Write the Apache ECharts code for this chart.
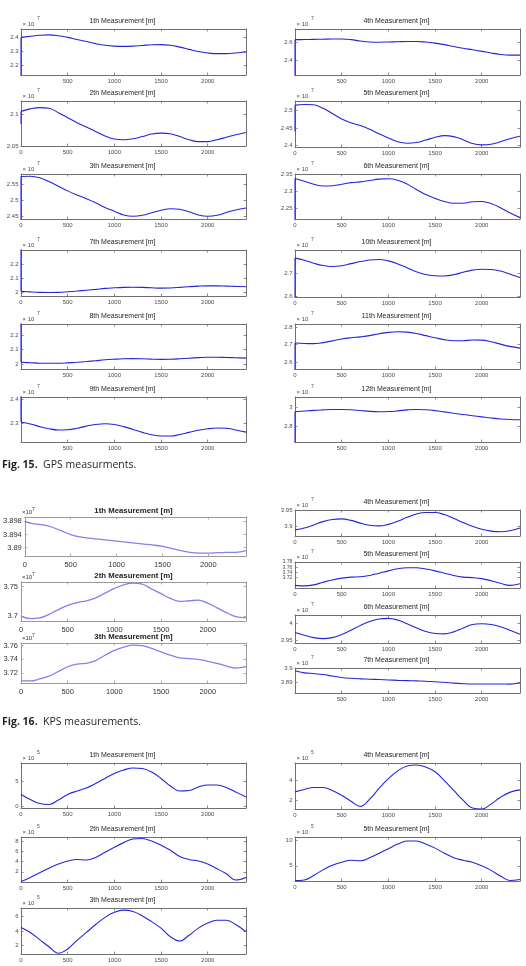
<!DOCTYPE html>
<html>
<head>
<meta charset="utf-8">
<title>GPS / KPS measurements</title>
<script src="https://cdn.jsdelivr.net/npm/echarts@6/dist/echarts.min.js"></script>
<style>
  html, body { margin: 0; padding: 0; background: #fff; }
  #chart { width: 526px; height: 966px; }
</style>
</head>
<body>
<div id="chart"></div>
<script>
// distance along the track [m], shared by every panel
var dist = [0, 100, 200, 300, 400, 500, 600, 700, 800, 900, 1000, 1100, 1200,
            1300, 1400, 1500, 1600, 1700, 1800, 1900, 2000, 2100, 2200, 2300, 2410];
var xTicks = [0, 500, 1000, 1500, 2000];

// Fig. 15 GPS (x 10^7)
var gps1 = [2.400, 2.408, 2.415, 2.418, 2.412, 2.400, 2.385, 2.370, 2.355, 2.343, 2.337, 2.335, 2.337, 2.342, 2.347, 2.348, 2.343, 2.330, 2.314, 2.298, 2.288, 2.283, 2.283, 2.288, 2.295];
var gps2 = [2.105, 2.109, 2.111, 2.110, 2.103, 2.095, 2.087, 2.080, 2.073, 2.066, 2.061, 2.060, 2.0615, 2.065, 2.069, 2.0705, 2.0695, 2.065, 2.060, 2.057, 2.057, 2.060, 2.064, 2.068, 2.0715];
var gps3 = [2.576, 2.577, 2.572, 2.560, 2.545, 2.530, 2.517, 2.505, 2.492, 2.477, 2.465, 2.453, 2.449, 2.452, 2.460, 2.468, 2.473, 2.471, 2.463, 2.453, 2.449, 2.452, 2.461, 2.469, 2.475];
var gps4 = [2.625, 2.626, 2.628, 2.630, 2.632, 2.632, 2.625, 2.610, 2.600, 2.598, 2.600, 2.603, 2.606, 2.606, 2.600, 2.588, 2.572, 2.552, 2.533, 2.517, 2.500, 2.482, 2.467, 2.460, 2.460];
var gps5 = [2.516, 2.518, 2.517, 2.507, 2.492, 2.476, 2.465, 2.457, 2.446, 2.433, 2.421, 2.410, 2.406, 2.408, 2.415, 2.423, 2.428, 2.425, 2.416, 2.405, 2.401, 2.403, 2.410, 2.419, 2.426];
var gps6 = [2.337, 2.329, 2.320, 2.315, 2.316, 2.320, 2.325, 2.327, 2.331, 2.335, 2.336, 2.332, 2.321, 2.305, 2.290, 2.279, 2.270, 2.265, 2.265, 2.269, 2.270, 2.264, 2.252, 2.237, 2.223];
var gps7 = [2.007, 2.003, 2.000, 1.999, 2.000, 2.004, 2.009, 2.015, 2.021, 2.028, 2.032, 2.035, 2.036, 2.035, 2.032, 2.030, 2.031, 2.035, 2.040, 2.044, 2.046, 2.046, 2.044, 2.042, 2.040];
var gps8 = [2.012, 2.009, 2.006, 2.005, 2.005, 2.008, 2.012, 2.017, 2.023, 2.029, 2.033, 2.036, 2.037, 2.036, 2.034, 2.032, 2.033, 2.036, 2.040, 2.044, 2.047, 2.047, 2.045, 2.043, 2.041];
var gps9 = [2.303, 2.296, 2.285, 2.276, 2.271, 2.272, 2.278, 2.287, 2.294, 2.297, 2.294, 2.285, 2.273, 2.261, 2.251, 2.246, 2.246, 2.252, 2.261, 2.270, 2.276, 2.279, 2.278, 2.271, 2.262];
var gps10 = [2.764, 2.755, 2.742, 2.732, 2.728, 2.731, 2.740, 2.749, 2.756, 2.758, 2.752, 2.739, 2.722, 2.705, 2.693, 2.688, 2.687, 2.692, 2.703, 2.712, 2.716, 2.715, 2.708, 2.695, 2.680];
var gps11 = [2.710, 2.707, 2.706, 2.712, 2.722, 2.733, 2.740, 2.745, 2.752, 2.763, 2.771, 2.774, 2.772, 2.764, 2.752, 2.740, 2.729, 2.723, 2.723, 2.727, 2.726, 2.717, 2.703, 2.690, 2.680];
var gps12 = [2.951, 2.958, 2.965, 2.970, 2.974, 2.975, 2.972, 2.964, 2.955, 2.951, 2.953, 2.960, 2.970, 2.975, 2.972, 2.963, 2.950, 2.936, 2.922, 2.910, 2.898, 2.886, 2.876, 2.870, 2.868];
// value of the first sample (drawn as the jump along the left edge)
var gpsLead = [2.0, 2.085, 2.3, 2.0, 2.44, 2.0, 2.5, 2.5, 2.6, 2.4, 2.4, 2.4];

// Fig. 16 KPS (x 10^7)
var kps1 = [3.8980, 3.8972, 3.8969, 3.8962, 3.8951, 3.8940, 3.8933, 3.8929, 3.8926, 3.8923, 3.8920, 3.8917, 3.8914, 3.8911, 3.8908, 3.8904, 3.8898, 3.8891, 3.8886, 3.8884, 3.8884, 3.8885, 3.8886, 3.8886, 3.8891];
var kps2 = [3.700, 3.6957, 3.697, 3.703, 3.711, 3.718, 3.723, 3.726, 3.731, 3.739, 3.747, 3.753, 3.756, 3.754, 3.746, 3.738, 3.730, 3.725, 3.726, 3.727, 3.722, 3.714, 3.706, 3.699, 3.697];
var kps3 = [3.708, 3.708, 3.711, 3.715, 3.722, 3.729, 3.733, 3.734, 3.738, 3.746, 3.753, 3.758, 3.761, 3.760, 3.756, 3.751, 3.746, 3.742, 3.741, 3.740, 3.737, 3.734, 3.730, 3.727, 3.729];
var kps4 = [3.887, 3.893, 3.903, 3.914, 3.921, 3.923, 3.918, 3.909, 3.902, 3.900, 3.905, 3.915, 3.928, 3.939, 3.944, 3.944, 3.937, 3.925, 3.911, 3.899, 3.889, 3.883, 3.881, 3.884, 3.893];
var kps5 = [3.690, 3.688, 3.692, 3.702, 3.711, 3.718, 3.722, 3.723, 3.728, 3.737, 3.746, 3.754, 3.758, 3.758, 3.753, 3.746, 3.737, 3.728, 3.722, 3.720, 3.716, 3.708, 3.698, 3.690, 3.696];
var kps6 = [3.973, 3.965, 3.958, 3.955, 3.958, 3.967, 3.980, 3.994, 4.006, 4.013, 4.015, 4.010, 3.999, 3.987, 3.976, 3.970, 3.969, 3.975, 3.986, 3.997, 3.999, 3.997, 3.990, 3.980, 3.968];
var kps7 = [3.8980, 3.8965, 3.8960, 3.8953, 3.8942, 3.8932, 3.8926, 3.8922, 3.8919, 3.8917, 3.8914, 3.8911, 3.8909, 3.8907, 3.8905, 3.8901, 3.8897, 3.8891, 3.8887, 3.8885, 3.8885, 3.8885, 3.8885, 3.8884, 3.8892];

// third figure (x 10^5)
var err1 = [2.3, 1.3, 0.5, 0.3, 1.2, 2.3, 3.0, 3.6, 4.5, 5.5, 6.5, 7.2, 7.6, 7.5, 6.8, 5.5, 4.0, 3.0, 3.1, 3.8, 4.2, 4.2, 3.7, 2.8, 1.8];
var err2 = [0.1, 0.9, 1.8, 2.7, 3.5, 4.1, 4.4, 4.3, 4.8, 5.8, 6.8, 7.7, 8.4, 8.5, 8.0, 7.2, 6.2, 5.0, 4.4, 4.1, 3.5, 2.6, 1.6, 0.4, 0.9];
var err3 = [4.5, 3.8, 2.8, 1.8, 0.9, 1.5, 2.7, 3.8, 4.9, 5.9, 6.6, 6.9, 6.7, 6.1, 5.3, 4.4, 3.2, 2.6, 3.4, 4.4, 5.1, 5.5, 5.5, 4.9, 3.9];
var err4 = [2.85, 3.1, 3.3, 3.3, 3.0, 2.5, 1.9, 1.35, 2.1, 3.2, 4.2, 5.0, 5.5, 5.6, 5.4, 4.9, 4.0, 3.0, 2.0, 1.2, 1.1, 1.6, 2.3, 2.8, 3.05];
var err5 = [2.1, 2.2, 3.1, 4.2, 5.1, 5.7, 6.1, 6.0, 6.6, 7.5, 8.4, 9.3, 9.9, 9.9, 9.3, 8.5, 7.5, 6.6, 6.1, 5.7, 5.0, 4.1, 3.0, 2.1, 2.3];

// y tick labels
var ticksGps1 = [2.2, 2.3, 2.4], ticksGps2 = [2.05, 2.1], ticksGps3 = [2.45, 2.5, 2.55];
var ticksGps4 = [2.4, 2.6], ticksGps5 = [2.4, 2.45, 2.5], ticksGps6 = [2.25, 2.3, 2.35];
var ticksGps7 = [2, 2.1, 2.2], ticksGps8 = [2, 2.1, 2.2], ticksGps9 = [2.3, 2.4];
var ticksGps10 = [2.6, 2.7], ticksGps11 = [2.6, 2.7, 2.8], ticksGps12 = [2.8, 3];
var ticksKps1 = [3.89, 3.894, 3.898], ticksKps2 = [3.7, 3.75], ticksKps3 = [3.72, 3.74, 3.76];
var ticksKps4 = [3.9, 3.95], ticksKps5 = [3.72, 3.74, 3.76, 3.78], ticksKps6 = [3.95, 4], ticksKps7 = [3.89, 3.9];
var ticksErr1 = [0, 5], ticksErr2 = [2, 4, 6, 8], ticksErr3 = [2, 4, 6], ticksErr4 = [2, 4], ticksErr5 = [5, 10];

var looks = {
  matlab: { line: '#2424dc', lineWidth: 1.1, axis: '#707070', label: '#4d4d4d', labelSize: 6,
            xMargin: 3, yMargin: 2.5, titleSize: 7, titleWeight: 'normal', titleColor: '#262626',
            titleShift: -11, titleGap: 8.3, expX: 1.5, expY: 5, expSize: 6, supX: 16, supY: 10, expText: '\u00d7 10' },
  kps:    { line: '#8282ec', lineWidth: 1.3, axis: '#9a9a9a', label: '#333333', labelSize: 7.5,
            xMargin: 4.5, yMargin: 3, titleSize: 7.8, titleWeight: 'bold', titleColor: '#222222',
            titleShift: 0, titleGap: 6, expX: 1, expY: 4.5, expSize: 6, supX: 11, supY: 7.5, expText: '\u00d710' }
};

var L = 21, R = 295, W = 225;
var panels = [
  { title: '1th Measurement [m]',  values: gps1,  lead: gpsLead[0],  yMin: 2.13,  yMax: 2.46,   ticks: ticksGps1,  exp: '7', zero: false, look: 'matlab', box: [L, 29, W, 46] },
  { title: '2th Measurement [m]',  values: gps2,  lead: gpsLead[1],  yMin: 2.05,  yMax: 2.1215, ticks: ticksGps2,  exp: '7', zero: true,  look: 'matlab', box: [L, 101, W, 45] },
  { title: '3th Measurement [m]',  values: gps3,  lead: gpsLead[2],  yMin: 2.44,  yMax: 2.584,  ticks: ticksGps3,  exp: '7', zero: true,  look: 'matlab', box: [L, 174, W, 45] },
  { title: '4th Measurement [m]',  values: gps4,  lead: gpsLead[3],  yMin: 2.247, yMax: 2.739,  ticks: ticksGps4,  exp: '7', zero: false, look: 'matlab', box: [R, 29, W, 46] },
  { title: '5th Measurement [m]',  values: gps5,  lead: gpsLead[4],  yMin: 2.395, yMax: 2.528,  ticks: ticksGps5,  exp: '7', zero: true,  look: 'matlab', box: [R, 101, W, 46] },
  { title: '6th Measurement [m]',  values: gps6,  lead: gpsLead[5],  yMin: 2.219, yMax: 2.35,   ticks: ticksGps6,  exp: '7', zero: true,  look: 'matlab', box: [R, 174, W, 45] },
  { title: '7th Measurement [m]',  values: gps7,  lead: gpsLead[6],  yMin: 1.974, yMax: 2.30,   ticks: ticksGps7,  exp: '7', zero: true,  look: 'matlab', box: [L, 250, W, 46] },
  { title: '8th Measurement [m]',  values: gps8,  lead: gpsLead[7],  yMin: 1.966, yMax: 2.275,  ticks: ticksGps8,  exp: '7', zero: false, look: 'matlab', box: [L, 324, W, 45] },
  { title: '9th Measurement [m]',  values: gps9,  lead: gpsLead[8],  yMin: 2.221, yMax: 2.408,  ticks: ticksGps9,  exp: '7', zero: false, look: 'matlab', box: [L, 397, W, 45] },
  { title: '10th Measurement [m]', values: gps10, lead: gpsLead[9],  yMin: 2.596, yMax: 2.799,  ticks: ticksGps10, exp: '7', zero: true,  look: 'matlab', box: [R, 250, W, 47] },
  { title: '11th Measurement [m]', values: gps11, lead: gpsLead[10], yMin: 2.56,  yMax: 2.819,  ticks: ticksGps11, exp: '7', zero: true,  look: 'matlab', box: [R, 324, W, 45] },
  { title: '12th Measurement [m]', values: gps12, lead: gpsLead[11], yMin: 2.637, yMax: 3.104,  ticks: ticksGps12, exp: '7', zero: false, look: 'matlab', box: [R, 397, W, 45] },

  { title: '1th Measurement [m]', values: kps1, yMin: 3.8875, yMax: 3.8993, ticks: ticksKps1, exp: '7', zero: true,  look: 'kps',    box: [L, 517, W, 39] },
  { title: '2th Measurement [m]', values: kps2, yMin: 3.6917, yMax: 3.7578, ticks: ticksKps2, exp: '7', zero: true,  look: 'kps',    box: [L, 582, W, 39] },
  { title: '3th Measurement [m]', values: kps3, yMin: 3.705,  yMax: 3.764,  ticks: ticksKps3, exp: '7', zero: true,  look: 'kps',    box: [L, 643, W, 40] },
  { title: '4th Measurement [m]', values: kps4, yMin: 3.867,  yMax: 3.952,  ticks: ticksKps4, exp: '7', zero: true,  look: 'matlab', box: [R, 510, W, 26] },
  { title: '5th Measurement [m]', values: kps5, yMin: 3.68,   yMax: 3.78,   ticks: ticksKps5, exp: '7', zero: true,  look: 'matlab', box: [R, 562, W, 26], labelSize: 5.2 },
  { title: '6th Measurement [m]', values: kps6, yMin: 3.942,  yMax: 4.025,  ticks: ticksKps6, exp: '7', zero: true,  look: 'matlab', box: [R, 615, W, 28] },
  { title: '7th Measurement [m]', values: kps7, yMin: 3.882,  yMax: 3.9,    ticks: ticksKps7, exp: '7', zero: false, look: 'matlab', box: [R, 668, W, 25] },

  { title: '1th Measurement [m]', values: err1, yMin: -0.4, yMax: 8.6,  ticks: ticksErr1, exp: '5', zero: true, look: 'matlab', box: [L, 763, W, 45] },
  { title: '2th Measurement [m]', values: err2, yMin: 0,    yMax: 8.8,  ticks: ticksErr2, exp: '5', zero: true, look: 'matlab', box: [L, 837, W, 45] },
  { title: '3th Measurement [m]', values: err3, yMin: 0.8,  yMax: 7.2,  ticks: ticksErr3, exp: '5', zero: true, look: 'matlab', box: [L, 908, W, 46] },
  { title: '4th Measurement [m]', values: err4, yMin: 1.1,  yMax: 5.8,  ticks: ticksErr4, exp: '5', zero: true, look: 'matlab', box: [R, 763, W, 46] },
  { title: '5th Measurement [m]', values: err5, yMin: 2.0,  yMax: 10.7, ticks: ticksErr5, exp: '5', zero: true, look: 'matlab', box: [R, 837, W, 44] }
];

var FONT = '"Liberation Sans", Arial, sans-serif';
function fmt(v) { return String(Math.round(v * 10000) / 10000); }

var grids = [], xAxes = [], yAxes = [], series = [], texts = [];

panels.forEach(function (p, i) {
  var lk = looks[p.look];
  var b = p.box;
  grids.push({ left: b[0], top: b[1], width: b[2], height: b[3], containLabel: false });

  var line = { show: true, onZero: false, lineStyle: { color: lk.axis, width: 1 } };
  var lbl = { color: lk.label, fontSize: lk.labelSize, fontFamily: FONT, formatter: fmt,
              showMinLabel: true, showMaxLabel: true, hideOverlap: false };

  // bottom + top x axes, left + right y axes make the box with inward ticks
  [['bottom', true], ['top', false]].forEach(function (s) {
    xAxes.push({
      gridIndex: i, type: 'value', position: s[0], min: 0, max: dist[dist.length - 1],
      axisLine: line, splitLine: { show: false },
      axisTick: { inside: true, length: 2.5, customValues: xTicks, lineStyle: { color: lk.axis, width: 0.8 } },
      axisLabel: s[1] ? Object.assign({ show: true, margin: lk.xMargin,
        customValues: p.zero ? xTicks : xTicks.slice(1) }, lbl) : { show: false }
    });
  });
  [['left', true], ['right', false]].forEach(function (s) {
    yAxes.push({
      gridIndex: i, type: 'value', position: s[0], min: p.yMin, max: p.yMax,
      axisLine: line, splitLine: { show: false },
      axisTick: { inside: true, length: 2.5, customValues: p.ticks, lineStyle: { color: lk.axis, width: 0.8 } },
      axisLabel: s[1] ? Object.assign({}, lbl, { show: true, margin: lk.yMargin, customValues: p.ticks,
        fontSize: p.labelSize || lk.labelSize }) : { show: false }
    });
  });

  var lineStyle = { color: lk.line, width: lk.lineWidth };
  series.push({
    type: 'line', xAxisIndex: 2 * i, yAxisIndex: 2 * i, smooth: 0.4, showSymbol: false,
    silent: true, lineStyle: lineStyle,
    data: dist.map(function (d, k) { return [d, p.values[k]]; })
  });
  if (p.lead !== undefined) {
    series.push({
      type: 'line', xAxisIndex: 2 * i, yAxisIndex: 2 * i, showSymbol: false, silent: true,
      lineStyle: lineStyle, data: [[0, p.lead], [0, p.values[0]]]
    });
  }

  texts.push({
    type: 'text', silent: true, x: b[0] + b[2] / 2 + lk.titleShift, y: b[1] - lk.titleGap,
    style: { text: p.title, fontSize: lk.titleSize, fontWeight: lk.titleWeight, fontFamily: FONT,
             fill: lk.titleColor, align: 'center', verticalAlign: 'middle' }
  });
  texts.push({
    type: 'text', silent: true, x: b[0] + lk.expX, y: b[1] - lk.expY,
    style: { text: lk.expText, fontSize: lk.expSize, fontFamily: FONT, fill: lk.label,
             align: 'left', verticalAlign: 'middle' }
  });
  texts.push({
    type: 'text', silent: true, x: b[0] + lk.supX, y: b[1] - lk.supY,
    style: { text: p.exp, fontSize: 5, fontFamily: FONT, fill: lk.label,
             align: 'left', verticalAlign: 'middle' }
  });
});

// figure captions
var CAP_FONT = '"Open Sans", "Noto Sans", sans-serif';
var captions = [['Fig. 15.', 'GPS measurments.', 465], ['Fig. 16.', 'KPS measurements.', 722]];
captions.forEach(function (c) {
  texts.push({
    type: 'text', silent: true, x: 2, y: c[2],
    style: { text: '{b|' + c[0] + '}  ' + c[1], fontSize: 10.5, fontFamily: CAP_FONT,
             fill: '#231f20', align: 'left', verticalAlign: 'middle',
             rich: { b: { fontWeight: 'bold', fontSize: 10.5, fontFamily: CAP_FONT, fill: '#231f20' } } }
  });
});

var chart = echarts.init(document.getElementById('chart'), null, { renderer: 'canvas' });
chart.setOption({
  animation: false,
  backgroundColor: '#ffffff',
  grid: grids,
  xAxis: xAxes,
  yAxis: yAxes,
  series: series,
  graphic: texts
});
</script>
</body>
</html>
